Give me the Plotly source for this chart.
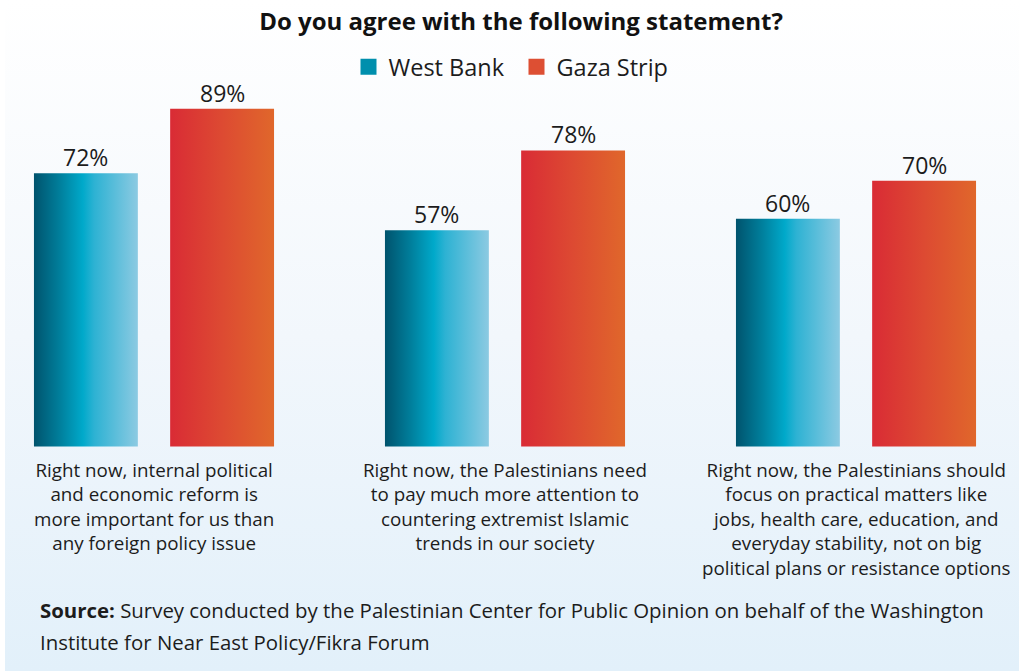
import base64
import plotly.graph_objects as go

# ---- data ----
categories = [
    "Right now, internal political<br>and economic reform is<br>more important for us than<br>any foreign policy issue",
    "Right now, the Palestinians need<br>to pay much more attention to<br>countering extremist Islamic<br>trends in our society",
    "Right now, the Palestinians should<br>focus on practical matters like<br>jobs, health care, education, and<br>everyday stability, not on big<br>political plans or resistance options",
]
series_names = ["West Bank", "Gaza Strip"]
west_bank = [72, 57, 60]
gaza_strip = [89, 78, 70]

title_text = "Do you agree with the following statement?"
source_line1 = "<b>Source:</b> Survey conducted by the Palestinian Center for Public Opinion on behalf of the Washington"
source_line2 = "Institute for Near East Policy/Fikra Forum"

# ---- styling ----
FONT = "Open Sans"
TEXT_COLOR = "#1c1c1c"
W, H = 1019, 671
BAR_WIDTH = 0.296
OFFSETS = [-0.342, 0.046]
GRADIENTS = [
    [[0.0, "#00536d"], [0.25, "#007f9c"], [0.47, "#00a9ca"], [0.58, "#2db2d3"], [1.0, "#8ccae2"]],
    [[0.0, "#d92b35"], [0.5, "#dd4a32"], [1.0, "#e0672b"]],
]
LEGEND_COLORS = ["#008fad", "#dd4f33"]

# page background: white fading to pale blue
svg = (
    f'<svg xmlns="http://www.w3.org/2000/svg" width="{W}" height="{H}" preserveAspectRatio="none">'
    '<defs><linearGradient id="g" x1="0" y1="0" x2="0" y2="1">'
    '<stop offset="0" stop-color="#ffffff"/>'
    '<stop offset="0.5" stop-color="#f2f7fc"/>'
    '<stop offset="1" stop-color="#e2f0fa"/>'
    '</linearGradient></defs>'
    f'<rect x="0" y="0" width="{W}" height="{H}" fill="url(#g)"/>'
    f'<rect x="0" y="0" width="5" height="{H}" fill="#ffffff"/>'
    '</svg>'
)
bg_src = "data:image/svg+xml;base64," + base64.b64encode(svg.encode()).decode()

fig = go.Figure()

all_series = [west_bank, gaza_strip]
for s, values in enumerate(all_series):
    for i, v in enumerate(values):
        x0 = i + OFFSETS[s]
        x1 = x0 + BAR_WIDTH
        fig.add_trace(go.Scatter(
            x=[x0, x1, x1, x0, x0],
            y=[0, 0, v, v, 0],
            mode="lines",
            line=dict(width=0),
            fill="toself",
            fillgradient=dict(type="horizontal", colorscale=GRADIENTS[s]),
            showlegend=False,
            hoverinfo="skip",
        ))
        fig.add_annotation(
            x=(x0 + x1) / 2, y=v, xref="x", yref="y",
            text=f"{v}%", showarrow=False, yanchor="bottom", yshift=-2,
            font=dict(family=FONT, size=23, color=TEXT_COLOR),
        )

# legend entries
for s, name in enumerate(series_names):
    fig.add_trace(go.Scatter(
        x=[None], y=[None], mode="markers", name=name,
        marker=dict(symbol="square", size=18, color=LEGEND_COLORS[s]),
    ))

# category captions below each group
for i, cat in enumerate(categories):
    fig.add_annotation(
        x=i, y=0, xref="x", yref="y", text=cat, showarrow=False,
        yanchor="top", yshift=-8, align="center",
        font=dict(family=FONT, size=18.8, color=TEXT_COLOR),
    )

fig.add_annotation(
    x=38 / W, y=1 - 610 / H, xref="paper", yref="paper", text=source_line1,
    showarrow=False, xanchor="left", yanchor="middle", align="left",
    font=dict(family=FONT, size=20.4, color=TEXT_COLOR),
)
fig.add_annotation(
    x=38 / W, y=1 - 642 / H, xref="paper", yref="paper", text=source_line2,
    showarrow=False, xanchor="left", yanchor="middle", align="left",
    font=dict(family=FONT, size=20.4, color=TEXT_COLOR),
)

# axis ranges: baseline at 446.5 px, 3.795 px per percentage point
px_per_unit = 3.795
y_top = 446.5 / px_per_unit
y_bottom = y_top - H / px_per_unit
x_left = -154 / 351
x_right = x_left + W / 351

fig.update_layout(
    width=W, height=H,
    margin=dict(l=0, r=0, t=0, b=0),
    paper_bgcolor="#ffffff",
    plot_bgcolor="rgba(0,0,0,0)",
    title=dict(
        text=f"<b>{title_text}</b>", x=521 / W, xanchor="center",
        y=1 - 22 / H, yanchor="middle",
        font=dict(family=FONT, size=24, color="#111111"),
    ),
    legend=dict(
        orientation="h", x=0.5 + 7 / W, xanchor="center", y=1 - 67 / H, yanchor="middle",
        font=dict(family=FONT, size=23.5, color=TEXT_COLOR),
        bgcolor="rgba(0,0,0,0)", itemsizing="trace",
        entrywidth=123, entrywidthmode="pixels",
    ),
    xaxis=dict(range=[x_left, x_right], visible=False, fixedrange=True),
    yaxis=dict(range=[y_bottom, y_top], visible=False, fixedrange=True),
    images=[dict(
        source=bg_src, xref="paper", yref="paper", x=0, y=1,
        sizex=1, sizey=1, sizing="stretch", layer="below",
    )],
    showlegend=True,
)

fig.write_html("out.html")
